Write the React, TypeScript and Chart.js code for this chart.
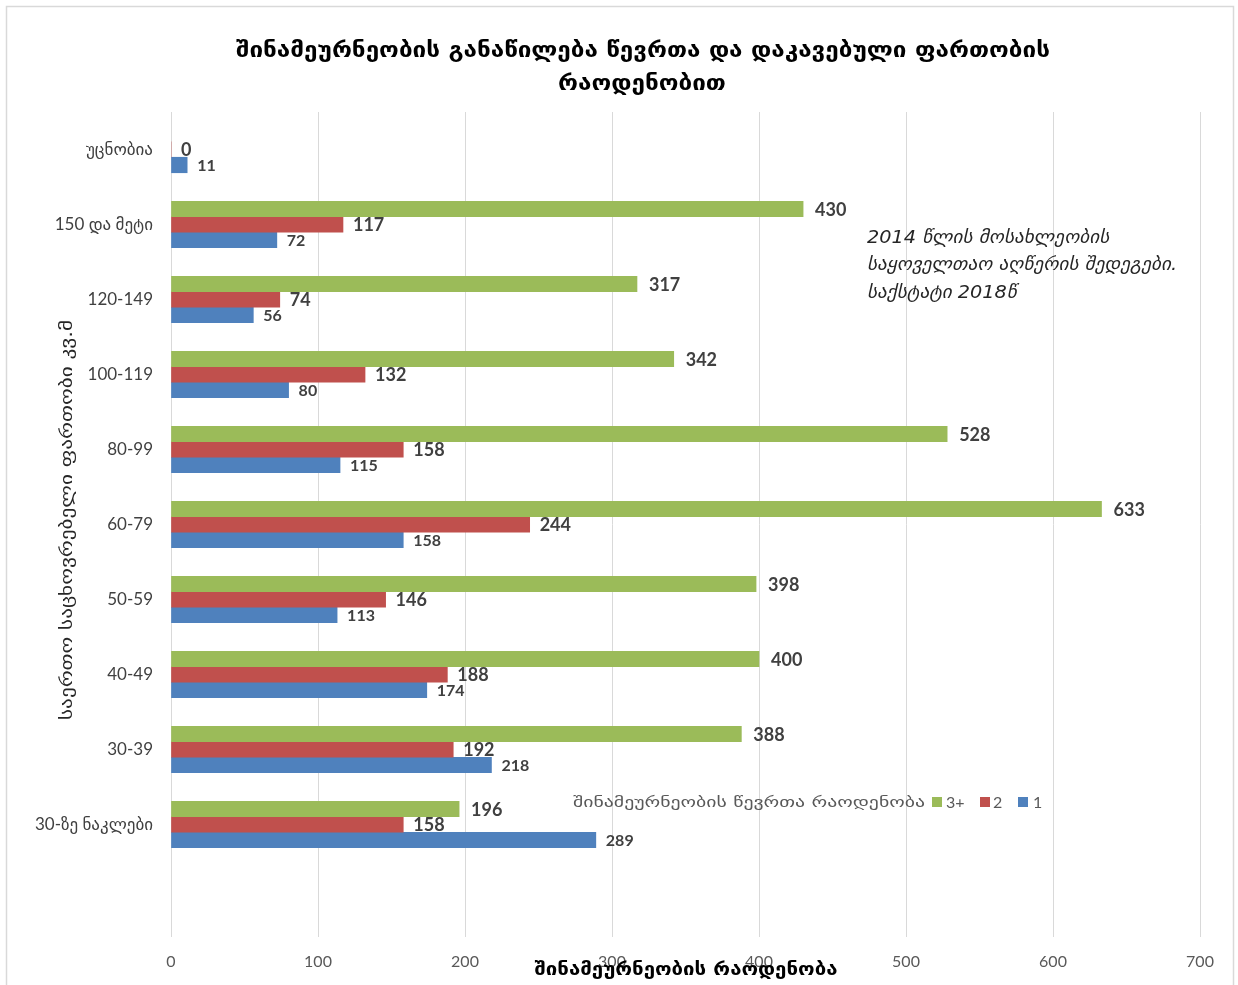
import React, { useEffect, useRef } from "react";
import { Chart, registerables } from "chart.js";

Chart.register(...registerables);

const categories = ["უცნობია", "150 და მეტი", "120-149", "100-119", "80-99", "60-79", "50-59", "40-49", "30-39", "30-ზე ნაკლები", ""];
const members3plus = [null, 430, 317, 342, 528, 633, 398, 400, 388, 196, null];
const members2 = [0, 117, 74, 132, 158, 244, 146, 188, 192, 158, null];
const members1 = [11, 72, 56, 80, 115, 158, 113, 174, 218, 289, null];
const seriesNames = ["3+", "2", "1"];
const xTicks = [0, 100, 200, 300, 400, 500, 600, 700];

const titleLines = ["შინამეურნეობის განაწილება წევრთა და დაკავებული ფართობის", "რაოდენობით"];
const yTitle = "საერთო საცხოვრებელი ფართობი კვ.მ";
const xTitle = "შინამეურნეობის რაოდენობა";
const noteLines = ["2014 წლის მოსახლეობის", "საყოველთაო აღწერის შედეგები.", "საქსტატი 2018წ"];
const legendTitle = "შინამეურნეობის წევრთა რაოდენობა";

const COLORS = ["#9BBB59", "#C0504D", "#4F81BD"];
const FONT = "Lato, 'DejaVu Sans', sans-serif";

const decorPlugin = {
  id: "decor",
  beforeDraw(chart: any) {
    const ctx = chart.ctx;
    ctx.save();
    ctx.fillStyle = "#ffffff";
    ctx.fillRect(0, 0, chart.width, chart.height);
    ctx.strokeStyle = "#D9D9D9";
    ctx.lineWidth = 1.5;
    ctx.strokeRect(6.5, 6.5, 1227, 1000);
    ctx.restore();
  },
  afterDraw(chart: any) {
    const ctx = chart.ctx;
    ctx.save();
    // title
    ctx.fillStyle = "#000000";
    ctx.textAlign = "center";
    ctx.textBaseline = "middle";
    ctx.font = "bold 21px 'DejaVu Sans', sans-serif";
    const w0 = ctx.measureText(titleLines[0]).width;
    const targetW = 814;
    ctx.save();
    ctx.translate(643, 52);
    ctx.scale(targetW / w0, 1);
    ctx.fillText(titleLines[0], 0, 0);
    ctx.restore();
    ctx.save();
    ctx.translate(642, 85);
    ctx.scale(targetW / w0, 1);
    ctx.fillText(titleLines[1], 0, 0);
    ctx.restore();

    // y title
    ctx.save();
    ctx.translate(68, 520);
    ctx.rotate(-Math.PI / 2);
    ctx.font = "17px 'DejaVu Sans', sans-serif";
    ctx.fillStyle = "#262626";
    const wy = ctx.measureText(yTitle).width;
    ctx.scale(400 / wy, 1);
    ctx.fillText(yTitle, 0, 0);
    ctx.restore();

    // x title
    ctx.save();
    ctx.font = "bold 18px 'DejaVu Sans', sans-serif";
    ctx.fillStyle = "#000000";
    const wx = ctx.measureText(xTitle).width;
    ctx.translate(686, 970);
    ctx.scale(303 / wx, 1);
    ctx.fillText(xTitle, 0, 0);
    ctx.restore();

    // note
    ctx.save();
    ctx.font = "italic 18px 'DejaVu Sans', sans-serif";
    ctx.fillStyle = "#262626";
    ctx.textAlign = "left";
    const wn = ctx.measureText(noteLines[1]).width;
    const sn = 310 / wn;
    noteLines.forEach((l, i) => {
      ctx.save();
      ctx.translate(867, 238 + i * 27.5);
      ctx.scale(sn, 1);
      ctx.fillText(l, 0, 0);
      ctx.restore();
    });
    ctx.restore();

    // legend
    ctx.save();
    ctx.textAlign = "left";
    ctx.fillStyle = "#595959";
    ctx.font = "15px 'DejaVu Sans', sans-serif";
    const wl = ctx.measureText(legendTitle).width;
    ctx.save();
    ctx.translate(573, 803);
    ctx.scale(352 / wl, 1);
    ctx.fillText(legendTitle, 0, 0);
    ctx.restore();
    const items = [
      { x: 932, tx: 946 },
      { x: 980, tx: 993 },
      { x: 1018, tx: 1033 },
    ];
    ctx.font = "16px " + FONT;
    items.forEach((it, i) => {
      ctx.fillStyle = COLORS[i];
      ctx.fillRect(it.x, 797, 10, 10);
      ctx.fillStyle = "#595959";
      ctx.fillText(seriesNames[i], it.tx, 803);
    });
    ctx.restore();

    // data labels
    ctx.save();
    ctx.textAlign = "left";
    ctx.textBaseline = "middle";
    ctx.fillStyle = "#404040";
    chart.data.datasets.forEach((ds: any, di: number) => {
      const meta = chart.getDatasetMeta(di);
      ctx.font = di === 2 ? "bold 16px " + FONT : "bold 18px " + FONT;
      meta.data.forEach((el: any, i: number) => {
        const v = ds.data[i];
        if (v === null || v === undefined) return;
        ctx.fillText(String(v), el.x + (di === 0 ? 12 : 10), el.y + 1);
      });
    });
    ctx.restore();

    ctx.restore();
  },
};

export default function App() {
  const ref = useRef<HTMLCanvasElement | null>(null);
  useEffect(() => {
    document.body.style.margin = "0";
    if (!ref.current) return;
    const chart = new Chart(ref.current, {
      type: "bar",
      data: {
        labels: categories,
        datasets: [
          { label: seriesNames[0], data: members3plus as any, backgroundColor: COLORS[0] },
          { label: seriesNames[1], data: members2 as any, backgroundColor: COLORS[1] },
          { label: seriesNames[2], data: members1 as any, backgroundColor: COLORS[2] },
        ],
      },
      options: {
        indexAxis: "y",
        animation: false,
        responsive: false,
        maintainAspectRatio: false,
        layout: { padding: { top: 112, right: 38, left: 0, bottom: 0 } },
        datasets: { bar: { barThickness: 15.5, borderWidth: 0 } } as any,
        plugins: { legend: { display: false }, tooltip: { enabled: false }, title: { display: false } },
        scales: {
          x: {
            min: 0,
            max: 700,
            afterBuildTicks: (s: any) => {
              s.ticks = xTicks.map((v) => ({ value: v }));
            },
            afterFit: (s: any) => {
              s.height = 48;
            },
            grid: { color: "#D9D9D9", drawTicks: false, lineWidth: 1 },
            border: { display: false },
            ticks: { padding: 15, color: "#595959", font: { family: FONT, size: 16 } },
          },
          y: {
            afterFit: (s: any) => {
              s.width = 171;
            },
            grid: { display: false, drawTicks: false },
            border: { display: false },
            ticks: { padding: 18, color: "#404040", font: { family: FONT, size: 17 }, autoSkip: false },
          },
        },
      },
      plugins: [decorPlugin],
    });
    return () => chart.destroy();
  }, []);
  return (
    <div style={{ width: 1238, height: 985 }}>
      <canvas ref={ref} width={1238} height={985} style={{ display: "block" }} />
    </div>
  );
}
